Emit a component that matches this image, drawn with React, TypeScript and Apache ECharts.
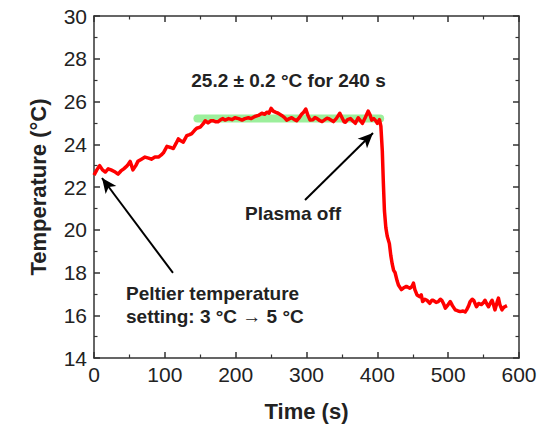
import React, { useEffect, useRef } from "react";
import * as echarts from "echarts";

const FONT = "'Liberation Sans', Arial, sans-serif";

const timeS: number[] = [
  0, 4, 8, 12, 16, 20, 24, 30, 34, 38, 42, 47, 51, 55, 59, 62, 67, 72, 77, 81, 86, 91, 95, 98,
  103, 108, 112, 116, 119, 123, 126, 131, 135, 138, 142, 145, 150, 154, 157, 161, 165, 168, 172,
  175, 179, 182, 185, 190, 195, 199, 204, 209, 213, 218, 222, 227, 232, 237, 241, 244, 247, 250,
  253, 256, 260, 265, 269, 272, 276, 279, 283, 286, 290, 293, 296, 299, 302, 305, 309, 312, 315,
  319, 322, 326, 329, 331, 335, 338, 342, 345, 347, 350, 353, 355, 358, 362, 365, 369, 373, 376,
  379, 383, 387, 390, 392, 395, 397, 400, 403, 405, 407, 408.5, 410, 412, 414, 417, 419, 421, 423,
  425, 428, 430, 434, 438, 441, 444, 446, 449, 451, 453, 456, 460, 462, 464, 467, 470, 474, 477,
  479, 483, 486, 489, 491, 494, 496, 500, 503, 506, 510, 514, 517, 521, 524, 526, 529, 531, 534,
  536, 538, 540, 543, 547, 550, 552, 555, 557, 560, 562, 564, 566, 569, 571, 573, 576, 578, 580, 583,
];

const temperatureC: number[] = [
  22.56, 22.8, 23.0, 22.8, 22.7, 22.85, 22.8, 22.7, 22.6, 22.75, 22.85, 23.0, 23.2, 22.8, 23.0,
  23.2, 23.3, 23.4, 23.35, 23.3, 23.4, 23.4, 23.5, 23.6, 23.9, 23.85, 23.8, 24.05, 24.25, 24.15,
  24.1, 24.4, 24.45, 24.5, 24.65, 24.75, 24.8, 24.95, 25.1, 25.0, 25.1, 25.1, 25.05, 25.05, 25.15,
  25.2, 25.13, 25.2, 25.15, 25.24, 25.2, 25.13, 25.2, 25.24, 25.2, 25.3, 25.35, 25.45, 25.4, 25.5,
  25.45, 25.68, 25.55, 25.5, 25.45, 25.35, 25.25, 25.13, 25.2, 25.24, 25.15, 25.1, 25.25, 25.4,
  25.5, 25.65, 25.35, 25.13, 25.15, 25.25, 25.2, 25.1, 25.06, 25.15, 25.22, 25.2, 25.12, 25.06,
  25.2, 25.35, 25.45, 25.25, 25.05, 25.03, 25.15, 25.2, 25.1, 24.98, 25.24, 25.1, 24.98, 25.25,
  25.55, 25.35, 25.13, 25.2, 25.13, 24.98, 25.15, 24.85, 23.7, 22.2, 20.9, 20.1, 19.7, 19.35,
  18.8, 18.4, 18.1, 18.0, 17.6, 17.4, 17.2, 17.3, 17.35, 17.3, 17.26, 17.35, 17.5, 17.2, 16.95,
  16.87, 16.95, 16.64, 16.75, 16.7, 16.56, 16.7, 16.7, 16.6, 16.64, 16.75, 16.7, 16.5, 16.33,
  16.5, 16.64, 16.45, 16.25, 16.2, 16.17, 16.2, 16.15, 16.25, 16.45, 16.64, 16.75, 16.7, 16.55,
  16.4, 16.55, 16.5, 16.6, 16.7, 16.5, 16.4, 16.6, 16.7, 16.5, 16.25, 16.6, 16.8, 16.5, 16.25,
  16.35, 16.4, 16.45,
];

// Stable window band (green): 25.2 °C
const bandTime: number[] = [146, 404];
const bandTemp: number[] = [25.2, 25.2];

// Annotation arrows in data coordinates: [fromT, fromY, toT, toY]
const arrowPeltier: number[] = [111.5, 17.98, 11.3, 22.42];
const arrowPlasma: number[] = [297.9, 21.39, 393.9, 24.53];

const xTicks = { min: 0, max: 600, interval: 100 };
const yTicks = { min: 14, max: 30, interval: 2 };

const AXIS_COLOR = "#333";

function axisCommon(showLabel: boolean) {
  return {
    type: "value" as const,
    axisLine: { show: true, onZero: false, lineStyle: { color: AXIS_COLOR, width: 1.5 } },
    axisTick: { show: true, inside: true, length: 6, lineStyle: { color: AXIS_COLOR, width: 1.5 } },
    minorTick: { show: true, splitNumber: 2, length: 3.5, lineStyle: { color: AXIS_COLOR, width: 1.2 } },
    splitLine: { show: false },
    minorSplitLine: { show: false },
    axisLabel: showLabel
      ? { show: true, fontSize: 21, color: "#222", fontFamily: FONT }
      : { show: false },
  };
}

export default function App() {
  const ref = useRef<HTMLDivElement>(null);

  useEffect(() => {
    if (!ref.current) return;
    const chart = echarts.init(ref.current, undefined, { renderer: "svg" });
    const lineData = timeS.map((t, i) => [t, temperatureC[i]]);
    const bandData = bandTime.map((t, i) => [t, bandTemp[i]]);

    const arrow = (a: number[]) => [
      { coord: [a[0], a[1]], symbol: "none" },
      { coord: [a[2], a[3]], symbol: "arrow", symbolSize: [10, 15] },
    ];

    chart.setOption({
      animation: false,
      textStyle: { fontFamily: FONT },
      grid: { left: 94, right: 40, top: 16, bottom: 69, containLabel: false },
      xAxis: [
        {
          ...axisCommon(true),
          ...xTicks,
          position: "bottom",
          name: "Time (s)",
          nameLocation: "middle",
          nameGap: 42,
          nameTextStyle: { fontSize: 22, fontWeight: "bold", color: "#222", fontFamily: FONT },
          axisLabel: { show: true, fontSize: 21, color: "#222", fontFamily: FONT, margin: 6 },
        },
        { ...axisCommon(false), ...xTicks, position: "top" },
      ],
      yAxis: [
        {
          ...axisCommon(true),
          ...yTicks,
          position: "left",
          name: "Temperature (°C)",
          nameLocation: "middle",
          nameGap: 45,
          nameTextStyle: { fontSize: 22, fontWeight: "bold", color: "#222", fontFamily: FONT },
          axisLabel: { show: true, fontSize: 21, color: "#222", fontFamily: FONT, margin: 7 },
        },
        { ...axisCommon(false), ...yTicks, position: "right" },
      ],
      series: [
        {
          type: "line",
          data: bandData,
          symbol: "none",
          silent: true,
          z: 1,
          lineStyle: { color: "#9cef9c", width: 8, cap: "round" },
        },
        {
          type: "line",
          data: lineData,
          symbol: "none",
          silent: true,
          z: 2,
          lineStyle: { color: "#ff0000", width: 3.5, join: "round" },
          markLine: {
            silent: true,
            animation: false,
            label: { show: false },
            lineStyle: { color: "#000", width: 2, type: "solid" },
            symbol: ["none", "arrow"],
            symbolSize: [10, 15],
            data: [arrow(arrowPeltier), arrow(arrowPlasma)],
          },
        },
      ],
      graphic: [
        {
          type: "text",
          x: 288.5,
          y: 80,
          style: {
            text: "25.2 ± 0.2 °C for 240 s",
            fill: "#222",
            font: `bold 19px ${FONT}`,
            align: "center",
            verticalAlign: "middle",
          },
        },
        {
          type: "text",
          x: 245,
          y: 213,
          style: {
            text: "Plasma off",
            fill: "#222",
            font: `bold 19px ${FONT}`,
            align: "left",
            verticalAlign: "middle",
          },
        },
        {
          type: "text",
          x: 126,
          y: 304.5,
          style: {
            text: "Peltier temperature\nsetting: 3 °C → 5 °C",
            fill: "#222",
            font: `bold 19px ${FONT}`,
            lineHeight: 23,
            align: "left",
            verticalAlign: "middle",
          },
        },
      ],
    });
    return () => chart.dispose();
  }, []);

  return (
    <div
      ref={ref}
      style={{ position: "fixed", left: 0, top: 0, width: 559, height: 427, background: "#fff" }}
    />
  );
}
